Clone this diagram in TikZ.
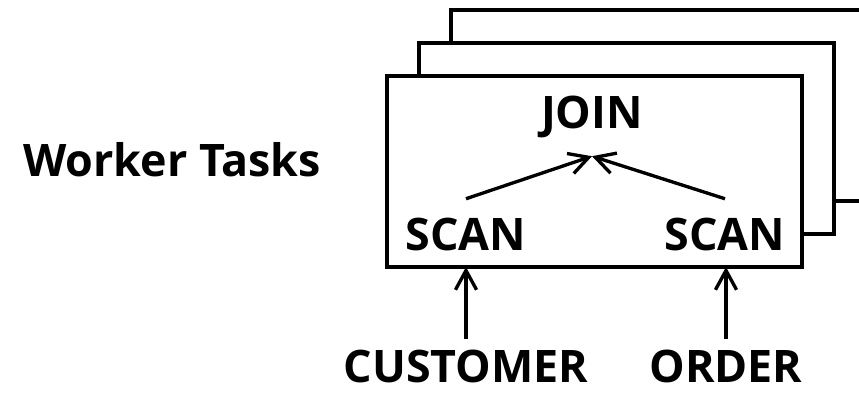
\documentclass[tikz,border=0pt]{standalone}
\usepackage{fontspec}
\setmainfont{Open Sans}
\usetikzlibrary{calc,arrows.meta}

\begin{document}
\begin{tikzpicture}[x=0.02cm,y=0.02cm,
  lbl/.style={font=\fontsize{25.5}{30}\selectfont\bfseries,inner sep=10.5pt,anchor=base},
  frame/.style={line width=2.2pt},
  flow/.style={line width=1.9pt,-{Straight Barb[length=11pt,width=12pt]}}]
  \clip (0,0) rectangle (859,393);
  % task box in front, two copies stacked behind it
  \node[frame,draw,outer sep=0pt,minimum width=8.3cm,minimum height=3.82cm] (task) at (594.5,221.5) {};
  \draw[frame] ($(task.north west)+(32,0)$) |- ($(task.north east)+(32,33)$) |- ($(task.south east)+(0,33)$);
  \draw[frame] ($(task.south east)+(32,66)$) -| ($(task.north east)+(64,66)$) -| ($(task.north west)+(64,33)$);
  % labels
  \node[lbl] (worker) at (172,217) {Worker Tasks};
  \node[lbl] (join) at (592,265) {JOIN};
  \node[lbl] (scanl) at (466,143) {SCAN};
  \node[lbl] (scanr) at (725,143) {SCAN};
  \node[lbl,inner sep=2pt] (customer) at (466,11) {CUSTOMER};
  \node[lbl,inner sep=2pt] (order) at (726,11) {ORDER};
  % arrows
  \draw[flow] (scanl.north) -- (join.south);
  \draw[flow] (scanr.north) -- (join.south);
  \draw[flow,shorten <=4pt] (customer.north) -- (customer.north |- task.south);
  \draw[flow,shorten <=4pt] (order.north) -- (order.north |- task.south);
\end{tikzpicture}
\end{document}
